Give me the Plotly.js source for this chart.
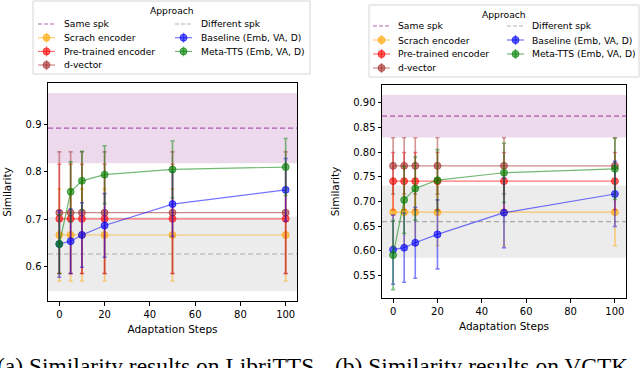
<!DOCTYPE html>
<html>
<head>
<meta charset="utf-8">
<script src="https://cdn.plot.ly/plotly-3.0.1.min.js"></script>
<style>
  html, body { margin: 0; padding: 0; background: white; }
  #chart { width: 640px; height: 368px; }
</style>
</head>
<body>
<div id="chart"></div>
<script>
// adaptation steps (shared x)
const steps = [0, 5, 10, 20, 50, 100];
const xTicks = [0, 20, 40, 60, 80, 100];

// (a) LibriTTS
const libriScratch = [0.667, 0.667, 0.667, 0.667, 0.667, 0.667];
const libriScratchErr = [0.097, 0.097, 0.097, 0.097, 0.097, 0.097];
const libriPretrained = [0.701, 0.701, 0.701, 0.701, 0.701, 0.701];
const libriPretrainedErr = [0.115, 0.115, 0.115, 0.115, 0.115, 0.115];
const libriDvector = [0.714, 0.714, 0.714, 0.714, 0.714, 0.714];
const libriDvectorErr = [0.128, 0.128, 0.128, 0.128, 0.128, 0.128];
const libriBaseline = [0.648, 0.654, 0.667, 0.687, 0.732, 0.762];
const libriBaselineErr = [0.070, 0.068, 0.068, 0.067, 0.068, 0.066];
const libriMeta = [0.648, 0.758, 0.781, 0.794, 0.805, 0.810];
const libriMetaErr = [0.062, 0.063, 0.062, 0.061, 0.060, 0.060];
const libriSameSpk = [0.892, 0.074];   // mean, std
const libriDiffSpk = [0.627, 0.078];

// (b) VCTK
const vctkScratch = [0.678, 0.678, 0.678, 0.678, 0.678, 0.678];
const vctkScratchErr = [0.068, 0.068, 0.068, 0.068, 0.068, 0.068];
const vctkPretrained = [0.741, 0.741, 0.741, 0.741, 0.741, 0.741];
const vctkPretrainedErr = [0.058, 0.058, 0.058, 0.058, 0.058, 0.058];
const vctkDvector = [0.772, 0.772, 0.772, 0.772, 0.772, 0.772];
const vctkDvectorErr = [0.057, 0.057, 0.057, 0.057, 0.057, 0.057];
const vctkBaseline = [0.602, 0.606, 0.616, 0.633, 0.677, 0.715];
const vctkBaselineErr = [0.070, 0.070, 0.072, 0.070, 0.071, 0.066];
const vctkMeta = [0.591, 0.703, 0.726, 0.743, 0.758, 0.766];
const vctkMetaErr = [0.070, 0.068, 0.064, 0.062, 0.060, 0.062];
const vctkSameSpk = [0.8727, 0.043];
const vctkDiffSpk = [0.659, 0.0733];

// legend entries, in two columns like the original
const legendCol1 = ['Same spk', 'Scrach encoder', 'Pre-trained encoder', 'd-vector'];
const legendCol2 = ['Different spk', 'Baseline (Emb, VA, D)', 'Meta-TTS (Emb, VA, D)'];

const xRange = [-5, 105];
const W = 640, H = 368;
const FONT = 'DejaVu Sans, sans-serif';

// rgb triplets
const colors = {
    'Same spk': '128,0,128',
    'Different spk': '128,128,128',
    'Scrach encoder': '255,165,0',
    'Pre-trained encoder': '255,0,0',
    'd-vector': '165,42,42',
    'Baseline (Emb, VA, D)': '0,0,255',
    'Meta-TTS (Emb, VA, D)': '0,128,0'
};

function rgba(c, a) {
    return `rgba(${c},${a})`;
}

// pixel -> paper
function px(v) { return v / W; }
function py(v) { return 1 - v / H; }

// band = mean ± std, plus a dashed line at the mean
function spkTraces(stat, name, axis) {
    const c = colors[name];
    const xs = [xRange[0], xRange[1], xRange[1], xRange[0]];
    const ys = [stat[0] + stat[1], stat[0] + stat[1], stat[0] - stat[1], stat[0] - stat[1]];
    const band = {
        x: xs, y: ys, xaxis: axis.x, yaxis: axis.y,
        type: 'scatter', mode: 'lines', fill: 'toself',
        fillcolor: rgba(c, 0.15), line: { width: 0 },
        hoverinfo: 'skip', showlegend: false
    };
    const mean = {
        x: xRange, y: [stat[0], stat[0]], xaxis: axis.x, yaxis: axis.y,
        type: 'scatter', mode: 'lines', name: name, showlegend: false,
        line: { color: rgba(c, 0.6), width: 1.2, dash: '5px,3px' }
    };
    return [band, mean];
}

function approachTrace(ys, errs, name, axis) {
    const c = colors[name];
    return {
        x: steps, y: ys, xaxis: axis.x, yaxis: axis.y,
        type: 'scatter', mode: 'lines+markers', name: name, showlegend: false,
        line: { color: rgba(c, 0.55), width: 1.2 },
        marker: { color: rgba(c, 0.6), size: 7, line: { color: rgba(c, 0.6), width: 1 } },
        error_y: { type: 'data', array: errs, visible: true, color: rgba(c, 0.5), thickness: 1.6, width: 2 }
    };
}

function panelTraces(d, axis) {
    const same = spkTraces(d.same, 'Same spk', axis);
    const diff = spkTraces(d.diff, 'Different spk', axis);
    return [
        same[0], diff[0], same[1], diff[1],
        approachTrace(d.scratch[0], d.scratch[1], 'Scrach encoder', axis),
        approachTrace(d.pretrained[0], d.pretrained[1], 'Pre-trained encoder', axis),
        approachTrace(d.dvector[0], d.dvector[1], 'd-vector', axis),
        approachTrace(d.baseline[0], d.baseline[1], 'Baseline (Emb, VA, D)', axis),
        approachTrace(d.meta[0], d.meta[1], 'Meta-TTS (Emb, VA, D)', axis)
    ];
}

const traces = [].concat(
    panelTraces({
        same: libriSameSpk, diff: libriDiffSpk,
        scratch: [libriScratch, libriScratchErr],
        pretrained: [libriPretrained, libriPretrainedErr],
        dvector: [libriDvector, libriDvectorErr],
        baseline: [libriBaseline, libriBaselineErr],
        meta: [libriMeta, libriMetaErr]
    }, { x: 'x', y: 'y' }),
    panelTraces({
        same: vctkSameSpk, diff: vctkDiffSpk,
        scratch: [vctkScratch, vctkScratchErr],
        pretrained: [vctkPretrained, vctkPretrainedErr],
        dvector: [vctkDvector, vctkDvectorErr],
        baseline: [vctkBaseline, vctkBaselineErr],
        meta: [vctkMeta, vctkMetaErr]
    }, { x: 'x2', y: 'y2' })
);

// matplotlib-style legend (plotly's own legend rows are too tall for this)
// box: pixel geometry of one legend
function buildLegend(box, shapes, annotations) {
    const paper = { xref: 'paper', yref: 'paper', layer: 'above' };
    shapes.push(Object.assign({
        type: 'rect', x0: px(box.x0), x1: px(box.x1), y0: py(box.y0), y1: py(box.y1),
        fillcolor: 'rgba(255,255,255,0.8)', line: { color: '#d6d6d6', width: 1 }
    }, paper));
    annotations.push({
        text: 'Approach', xref: 'paper', yref: 'paper', showarrow: false,
        x: px((box.x0 + box.x1) / 2), y: py(box.titleY), xanchor: 'center', yanchor: 'middle',
        font: { family: FONT, size: 9.2, color: 'black' }
    });
    [legendCol1, legendCol2].forEach((col, ci) => {
        col.forEach((name, ri) => {
            const c = colors[name];
            const y = box.rowY[ri];
            const s0 = box.symX[ci], s1 = s0 + 17, sm = s0 + 8.5;
            const dashed = name === 'Same spk' || name === 'Different spk';
            shapes.push(Object.assign({
                type: 'line', x0: px(s0), x1: px(s1), y0: py(y), y1: py(y),
                line: { color: rgba(c, dashed ? 0.6 : 0.55), width: 1.2, dash: dashed ? '4px,2px' : 'solid' }
            }, paper));
            if (!dashed) {
                shapes.push(Object.assign({
                    type: 'line', x0: px(sm), x1: px(sm), y0: py(y - 5), y1: py(y + 5),
                    line: { color: rgba(c, 0.5), width: 1.6 }
                }, paper));
                shapes.push(Object.assign({
                    type: 'circle', x0: px(sm - 3.5), x1: px(sm + 3.5), y0: py(y - 3.5), y1: py(y + 3.5),
                    fillcolor: rgba(c, 0.6), line: { color: rgba(c, 0.6), width: 1 }
                }, paper));
            }
            annotations.push({
                text: name, xref: 'paper', yref: 'paper', showarrow: false,
                x: px(box.textX[ci] - 2), y: py(y), xanchor: 'left', yanchor: 'middle',
                font: { family: FONT, size: 9.2, color: 'black' }
            });
        });
    });
}

const captionFont = { family: 'Liberation Serif, serif', size: 23.5, color: 'black' };
const shapes = [];
const annotations = [
    {
        text: '(a) Similarity results on LibriTTS', xref: 'paper', yref: 'paper',
        x: px(155), y: py(351), xanchor: 'center', yanchor: 'top', showarrow: false,
        font: captionFont
    },
    {
        text: '(b) Similarity results on VCTK', xref: 'paper', yref: 'paper',
        x: px(481), y: py(351), xanchor: 'center', yanchor: 'top', showarrow: false,
        font: captionFont
    }
];
buildLegend({ x0: 33, x1: 310, y0: 1, y1: 74, titleY: 10, rowY: [24, 37.7, 51.4, 65], symX: [38, 175], textX: [64, 201] }, shapes, annotations);
buildLegend({ x0: 369, x1: 639, y0: 5, y1: 77, titleY: 14, rowY: [26, 40, 54, 68], symX: [373, 507], textX: [398, 532] }, shapes, annotations);

const axisStyle = {
    showline: true, mirror: true, linecolor: 'black', linewidth: 1,
    ticks: 'outside', ticklen: 3.5, tickcolor: 'black',
    showgrid: false, zeroline: false,
    tickfont: { family: FONT, size: 10, color: 'black' }
};
const titleFont = { family: FONT, size: 10.5, color: 'black' };

const layout = {
    width: W, height: H,
    margin: { l: 0, r: 0, t: 0, b: 0 },
    paper_bgcolor: 'white', plot_bgcolor: 'white',
    showlegend: false,
    xaxis: Object.assign({}, axisStyle, {
        domain: [px(48), px(297)], range: xRange, tickvals: xTicks,
        title: { text: 'Adaptation Steps', font: titleFont, standoff: 7 }
    }),
    yaxis: Object.assign({}, axisStyle, {
        domain: [py(301), py(83)], range: [0.528, 0.987],
        tickvals: [0.6, 0.7, 0.8, 0.9], tickformat: '.1f',
        title: { text: 'Similarity', font: titleFont, standoff: 11 }
    }),
    xaxis2: Object.assign({}, axisStyle, {
        domain: [px(382), px(626)], range: xRange, tickvals: xTicks, anchor: 'y2',
        title: { text: 'Adaptation Steps', font: titleFont, standoff: 7 }
    }),
    yaxis2: Object.assign({}, axisStyle, {
        domain: [py(298), py(85)], range: [0.504, 0.936], anchor: 'x2',
        tickvals: [0.55, 0.6, 0.65, 0.7, 0.75, 0.8, 0.85, 0.9], tickformat: '.2f',
        title: { text: 'Similarity', font: titleFont, standoff: 11 }
    }),
    shapes: shapes,
    annotations: annotations
};

Plotly.newPlot('chart', traces, layout, { staticPlot: true, displayModeBar: false });
</script>
</body>
</html>
